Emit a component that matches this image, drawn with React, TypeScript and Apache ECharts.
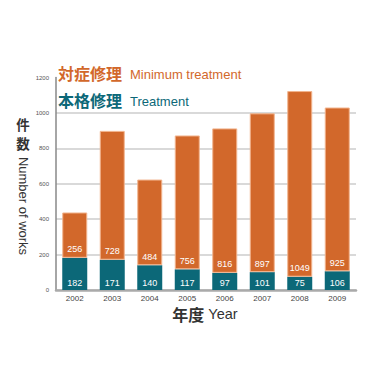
import React, { useEffect, useRef } from "react";
import * as echarts from "echarts";

const years = ["2002", "2003", "2004", "2005", "2006", "2007", "2008", "2009"];
const treatment = [182, 171, 140, 117, 97, 101, 75, 106];
const minimumTreatment = [256, 728, 484, 756, 816, 897, 1049, 925];
const yTicks = [0, 200, 400, 600, 800, 1000, 1200];

const ORANGE = "#D2682B";
const TEAL = "#0C6878";
const CJK = '"Noto Sans CJK JP", "Noto Sans", sans-serif';
const LAT = '"Liberation Sans", Arial, sans-serif';

export default function App() {
  const ref = useRef<HTMLDivElement>(null);
  useEffect(() => {
    if (!ref.current) return;
    const chart = echarts.init(ref.current, null, { renderer: "svg" });
    chart.setOption({
      animation: false,
      backgroundColor: "#ffffff",
      grid: { left: 48, right: 23, top: 69.6, bottom: 89 },
      xAxis: {
        type: "category",
        data: years,
        axisLine: { lineStyle: { color: "#aaaaaa", width: 2.5 } },
        axisTick: { show: false },
        axisLabel: { color: "#444", fontSize: 8, fontFamily: LAT, margin: 4 },
      },
      yAxis: {
        type: "value",
        min: yTicks[0],
        max: yTicks[yTicks.length - 1],
        interval: 200,
        axisLine: { show: true, lineStyle: { color: "#888", width: 1.5 } },
        axisTick: { show: false },
        axisLabel: {
          color: "#555",
          fontSize: 6,
          fontFamily: LAT,
          margin: 7,
          formatter: (v: number) => String(v),
        },
        splitLine: {
          lineStyle: { color: "#cccccc", width: 1.5 },
          showMaxLine: false,
        },
      },
      series: [
        {
          type: "bar",
          stack: "total",
          data: treatment,
          barWidth: 25,
          itemStyle: { color: TEAL },
          label: {
            show: true,
            position: "insideBottom",
            distance: 3,
            color: "#ffffff",
            fontSize: 9,
            fontFamily: LAT,
          },
        },
        {
          type: "bar",
          stack: "total",
          data: minimumTreatment,
          barWidth: 25,
          itemStyle: { color: ORANGE, borderColor: "#F2B48E", borderWidth: 1 },
          label: {
            show: true,
            position: "insideBottom",
            distance: 4,
            color: "#ffffff",
            fontSize: 9,
            fontFamily: LAT,
          },
        },
      ],
      graphic: [
        {
          type: "text",
          left: 50,
          top: 57,
          style: {
            text: "{a|対症修理}{b|Minimum treatment}",
            rich: {
              a: { fontSize: 16, fontWeight: "bold", fill: ORANGE, fontFamily: CJK },
              b: { fontSize: 13, fill: ORANGE, fontFamily: LAT, padding: [2, 0, 0, 8] },
            },
          },
        },
        {
          type: "text",
          left: 50,
          top: 84,
          style: {
            text: "{a|本格修理}{b|Treatment}",
            rich: {
              a: { fontSize: 16, fontWeight: "bold", fill: TEAL, fontFamily: CJK },
              b: { fontSize: 13, fill: TEAL, fontFamily: LAT, padding: [2, 0, 0, 8] },
            },
          },
        },
        {
          type: "text",
          x: 15,
          y: 116,
          style: {
            text: "件",
            fontSize: 13.5,
            fontWeight: "bold",
            fill: "#333",
            fontFamily: CJK,
            align: "center",
            verticalAlign: "middle",
          },
        },
        {
          type: "text",
          x: 15,
          y: 135,
          style: {
            text: "数",
            fontSize: 13.5,
            fontWeight: "bold",
            fill: "#333",
            fontFamily: CJK,
            align: "center",
            verticalAlign: "middle",
          },
        },
        {
          type: "text",
          x: 15,
          y: 198,
          rotation: -Math.PI / 2,
          style: {
            text: "Number of works",
            fontSize: 13,
            fill: "#333",
            fontFamily: LAT,
            align: "center",
            verticalAlign: "middle",
          },
        },
        {
          type: "text",
          x: 197,
          y: 306,
          style: {
            text: "{a|年度}{b|Year}",
            align: "center",
            verticalAlign: "middle",
            rich: {
              a: { fontSize: 16, lineHeight: 16, fontWeight: "bold", fill: "#333", fontFamily: CJK },
              b: { fontSize: 14.5, lineHeight: 16, fill: "#333", fontFamily: LAT, padding: [0, 0, 0, 4] },
            },
          },
        },
      ],
    });
    return () => chart.dispose();
  }, []);
  return <div ref={ref} style={{ width: 371, height: 371 }} />;
}
